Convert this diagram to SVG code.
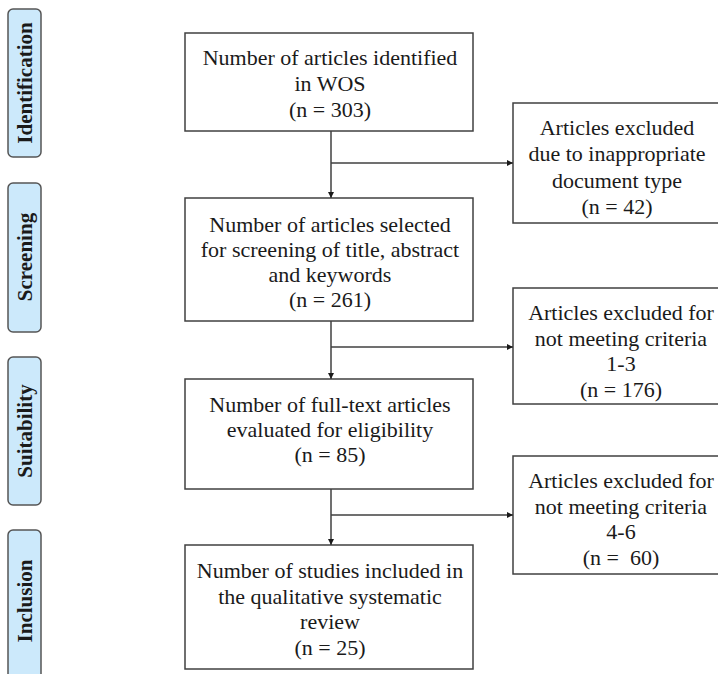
<svg xmlns="http://www.w3.org/2000/svg" width="718" height="674" viewBox="0 0 718 674">
<style>
.box{fill:#fff;stroke:#404040;stroke-width:1.5}
.side{fill:#cce9fb;stroke:#555;stroke-width:1.5}
.t{font-family:"Liberation Serif",serif;font-size:22px;fill:#1a1a1a;text-anchor:middle}
.s{font-family:"Liberation Serif",serif;font-size:21px;font-weight:bold;fill:#1a1a1a;text-anchor:middle}
.c{fill:none;stroke:#404040;stroke-width:1.5}
</style>
<defs>
<marker id="ah" viewBox="0 0 10 10" refX="10" refY="5" markerWidth="6" markerHeight="6" orient="auto" markerUnits="userSpaceOnUse">
<path d="M0,0 L10,5 L0,10 z" fill="#1a1a1a"/>
</marker>
</defs>
<rect width="718" height="674" fill="#fff"/>
<g id="stage-identification">
<rect class="side" x="8" y="9" width="33" height="148" rx="5"/>
<text class="s" transform="translate(32,83) rotate(-90)">Identification</text>
</g>
<g id="stage-screening">
<rect class="side" x="8" y="183" width="33" height="149" rx="5"/>
<text class="s" transform="translate(32,257) rotate(-90)">Screening</text>
</g>
<g id="stage-suitability">
<rect class="side" x="8" y="357" width="33" height="148" rx="5"/>
<text class="s" transform="translate(32,431) rotate(-90)">Suitability</text>
</g>
<g id="stage-inclusion">
<rect class="side" x="8" y="530" width="33" height="160" rx="5"/>
<text class="s" transform="translate(32,601) rotate(-90)">Inclusion</text>
</g>
<g id="identified">
<rect class="box" x="185" y="33" width="288" height="98"/>
<text class="t" x="330" y="65">Number of articles identified</text>
<text class="t" x="330" y="91">in WOS</text>
<text class="t" x="330" y="117">(n = 303)</text>
</g>
<g id="excluded-type">
<rect class="box" x="513" y="103" width="215" height="120"/>
<text class="t" x="617" y="135">Articles excluded</text>
<text class="t" x="617" y="161">due to inappropriate</text>
<text class="t" x="617" y="188">document type</text>
<text class="t" x="617" y="214">(n = 42)</text>
</g>
<g id="screening">
<rect class="box" x="185" y="198" width="288" height="123"/>
<text class="t" x="330" y="232">Number of articles selected</text>
<text class="t" x="330" y="257">for screening of title, abstract</text>
<text class="t" x="330" y="282">and keywords</text>
<text class="t" x="330" y="307">(n = 261)</text>
</g>
<g id="excluded-1-3">
<rect class="box" x="513" y="288" width="215" height="116"/>
<text class="t" x="621" y="320">Articles excluded for</text>
<text class="t" x="621" y="346">not meeting criteria</text>
<text class="t" x="621" y="371">1-3</text>
<text class="t" x="621" y="397">(n = 176)</text>
</g>
<g id="fulltext">
<rect class="box" x="185" y="379" width="288" height="110"/>
<text class="t" x="330" y="412">Number of full-text articles</text>
<text class="t" x="330" y="437">evaluated for eligibility</text>
<text class="t" x="330" y="462">(n = 85)</text>
</g>
<g id="excluded-4-6">
<rect class="box" x="513" y="456" width="215" height="118"/>
<text class="t" x="621" y="488">Articles excluded for</text>
<text class="t" x="621" y="514">not meeting criteria</text>
<text class="t" x="621" y="539">4-6</text>
<text class="t" x="621" y="565" xml:space="preserve">(n =  60)</text>
</g>
<g id="included">
<rect class="box" x="185" y="545" width="288" height="124"/>
<text class="t" x="330" y="578">Number of studies included in</text>
<text class="t" x="330" y="604">the qualitative systematic</text>
<text class="t" x="330" y="629">review</text>
<text class="t" x="330" y="655">(n = 25)</text>
</g>
<g id="connectors">
<line class="c" x1="331" y1="131" x2="331" y2="198" marker-end="url(#ah)"/>
<line class="c" x1="331" y1="163" x2="513" y2="163" marker-end="url(#ah)"/>
<line class="c" x1="331" y1="321" x2="331" y2="379" marker-end="url(#ah)"/>
<line class="c" x1="331" y1="347" x2="513" y2="347" marker-end="url(#ah)"/>
<line class="c" x1="331" y1="489" x2="331" y2="545" marker-end="url(#ah)"/>
<line class="c" x1="331" y1="515" x2="513" y2="515" marker-end="url(#ah)"/>
</g>
</svg>
